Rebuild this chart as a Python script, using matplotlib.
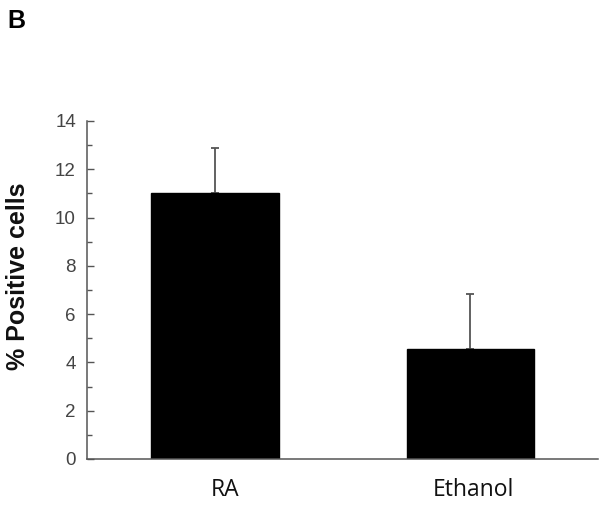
import matplotlib
matplotlib.use("Agg")
import matplotlib.pyplot as plt
import matplotlib.transforms as mtransforms
import numpy as np

categories = ["RA", "Ethanol"]
values = [11.0, 4.55]
errors = [1.9, 2.3]

plt.rcParams['font.family'] = ['Liberation Sans', 'DejaVu Sans']

fig = plt.figure(figsize=(6.0, 5.08), dpi=100)
ax = fig.add_axes([0.145, 0.0965, 0.852, 0.6654])

x = np.arange(len(categories))
ax.bar(x, values, width=0.5, color='black', edgecolor='black', zorder=2)
ax.errorbar(x, values, yerr=[np.zeros(len(errors)), errors], fmt='none',
            ecolor='#555555', elinewidth=1.3, capsize=3, capthick=1.3, zorder=1)

ax.set_xlim(-0.5, 1.5)
ax.set_ylim(0, 14)
ax.set_yticks(np.arange(0, 15, 2))
ax.set_yticks(np.arange(1, 14, 2), minor=True)
ax.set_xticks(x)
ax.set_xticklabels(categories, fontsize=16.5, color='#111111', family=['Open Sans', 'DejaVu Sans'])

for s in ['top', 'right']:
    ax.spines[s].set_visible(False)
for s in ['left', 'bottom']:
    ax.spines[s].set_color('#555555')
    ax.spines[s].set_linewidth(1.1)

ax.tick_params(axis='y', which='major', direction='in', length=5, width=1.0,
               color='#555555', labelsize=13.5, labelcolor='#444444', pad=8)
ax.tick_params(axis='y', which='minor', direction='in', length=3.5, width=1.0,
               color='#555555')
ax.tick_params(axis='x', which='both', length=0, pad=14)

offsets_px = [10, 3]
for tick, dx in zip(ax.xaxis.get_major_ticks(), offsets_px):
    lbl = tick.label1
    lbl.set_transform(lbl.get_transform() + mtransforms.ScaledTranslation(dx / 100, 0, fig.dpi_scale_trans))

ax.set_ylabel('% Positive cells', fontsize=18, fontweight='bold', color='#111111')
ax.yaxis.set_label_coords(-0.1115, 0.54)

fig.text(0.013, 1 - 9/508, 'B', fontsize=18, fontweight='bold', va='top', ha='left')

fig.savefig('out.png', dpi=100)
